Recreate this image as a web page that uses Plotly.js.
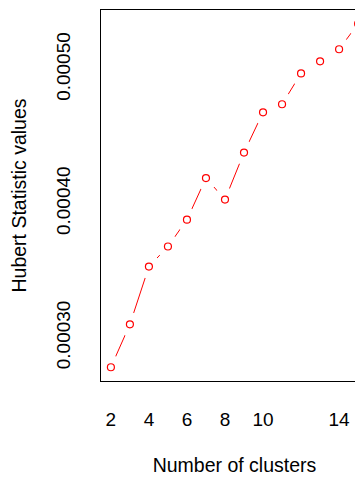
<!DOCTYPE html>
<html>
<head>
<meta charset="utf-8">
<script src="https://cdn.plot.ly/plotly-3.0.1.min.js"></script>
<style>
html, body { margin: 0; padding: 0; overflow: hidden; background: #fff; }
#chart { width: 400px; height: 479px; }
</style>
</head>
<body>
<div id="chart"></div>
<script>
// Data
var clusters = [2, 3, 4, 5, 6, 7, 8, 9, 10, 11, 12, 13, 14, 15];
var hubertValues = [0.000278, 0.000310, 0.000353, 0.000368, 0.000388, 0.000419, 0.000403,
                    0.000438, 0.000468, 0.000474, 0.000497, 0.000506, 0.000515, 0.000534];
var xTickVals = [2, 4, 6, 8, 10, 14];
var yTickVals = [0.00030, 0.00040, 0.00050];
var yTickText = ["0.00030", "0.00040", "0.00050"];

function padRange(arr) {
  var mn = Math.min.apply(null, arr), mx = Math.max.apply(null, arr);
  var p = (mx - mn) * 0.04;
  return [mn - p, mx + p];
}

var font = { family: "Liberation Sans, Arial, sans-serif", color: "#000" };

var traces = [
  { x: clusters, y: hubertValues, type: "scatter", mode: "lines",
    line: { color: "#FF0000", width: 1 }, hoverinfo: "skip", showlegend: false },
  { x: clusters, y: hubertValues, type: "scatter", mode: "markers",
    marker: { symbol: "circle", size: 24, color: "#FFFFFF", line: { width: 0 } },
    hoverinfo: "skip", showlegend: false },
  { x: clusters, y: hubertValues, type: "scatter", mode: "markers",
    marker: { symbol: "circle-open", size: 7, color: "#FF0000", line: { width: 1.2, color: "#FF0000" } },
    showlegend: false }
];

var layout = {
  width: 400, height: 479,
  margin: { l: 101, r: 32, t: 10, b: 98, pad: 0 },
  paper_bgcolor: "#fff", plot_bgcolor: "#fff",
  font: font,
  showlegend: false,
  xaxis: {
    range: padRange(clusters),
    tickmode: "array", tickvals: xTickVals,
    ticks: "", showgrid: false, zeroline: false,
    showline: true, mirror: true, linecolor: "#000", linewidth: 1,
    tickfont: { family: font.family, size: 19, color: "#000" },
    ticklabelstandoff: 21,
    title: { text: "Number of clusters", font: { family: font.family, size: 19.5, color: "#000" }, standoff: 29 },
    automargin: false
  },
  yaxis: {
    range: padRange(hubertValues),
    tickmode: "array", tickvals: yTickVals, ticktext: yTickText,
    tickangle: -90,
    ticks: "", showgrid: false, zeroline: false,
    showline: true, mirror: true, linecolor: "#000", linewidth: 1,
    tickfont: { family: font.family, size: 19, color: "#000" },
    ticklabelstandoff: 22,
    title: { text: "Hubert Statistic values", font: { family: font.family, size: 19.5, color: "#000" }, standoff: 21 },
    automargin: false
  }
};

Plotly.newPlot("chart", traces, layout, { staticPlot: true, displayModeBar: false });
</script>
</body>
</html>
